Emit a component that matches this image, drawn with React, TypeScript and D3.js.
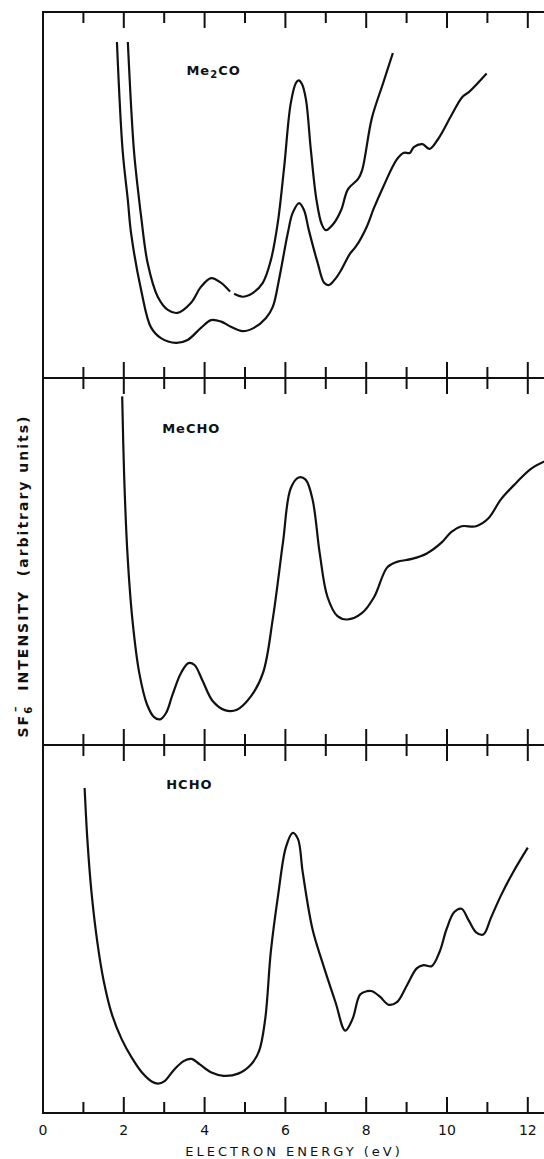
import React, { useRef, useEffect } from "react";
import * as d3 from "d3";

type Pt = [number, number | null];

// energy (eV) / intensity (0-100 of each panel, arbitrary units)
const me2coUpper: Pt[] = [
  [2.1, 91.8], [2.25, 62.3], [2.38, 48.6], [2.43, 44.0], [2.59, 31.4], [2.84, 22.2],
  [3.09, 18.6], [3.33, 17.8], [3.66, 20.5], [3.91, 24.9], [4.16, 27.3], [4.41, 26.0],
  [4.63, 23.6], [4.68, null], [4.73, 23.0], [4.94, 22.2], [5.19, 23.2], [5.44, 26.0],
  [5.64, 32.2], [5.81, 42.3], [5.97, 57.7], [6.13, 74.9], [6.26, 80.6], [6.33, 81.3],
  [6.41, 80.3], [6.51, 76.0], [6.63, 62.3], [6.77, 48.6], [6.9, 42.0], [7.0, 40.4],
  [7.2, 42.3], [7.38, 45.9], [7.55, 51.6], [7.8, 54.4], [7.9, 56.8], [8.14, 71.0],
  [8.42, 80.6], [8.66, 88.8],
];

const me2coLower: Pt[] = [
  [1.83, 91.8], [1.97, 62.3], [2.1, 48.6], [2.18, 39.6], [2.43, 24.0], [2.67, 13.9],
  [2.92, 10.9], [3.29, 9.6], [3.58, 10.4], [3.91, 13.7], [4.16, 15.8], [4.41, 15.4],
  [4.65, 14.0], [4.94, 12.8], [5.22, 13.7], [5.52, 16.4], [5.69, 19.5], [5.84, 26.8],
  [6.06, 39.6], [6.18, 45.1], [6.34, 47.8], [6.46, 45.9], [6.58, 40.4], [6.8, 31.4],
  [6.96, 26.0], [7.08, 25.4], [7.25, 27.3], [7.38, 29.5], [7.6, 34.0], [7.75, 36.0],
  [8.0, 41.0], [8.19, 46.4], [8.42, 52.2], [8.75, 59.6], [8.92, 61.5], [9.08, 61.5],
  [9.18, 63.1], [9.39, 63.9], [9.57, 62.6], [9.78, 65.3], [10.12, 72.0], [10.38, 76.8],
  [10.54, 78.1], [10.98, 83.2],
];

const mechoCurve: Pt[] = [
  [1.96, 95.0], [2.01, 72.9], [2.09, 52.2], [2.21, 34.5], [2.38, 19.8], [2.58, 10.9],
  [2.75, 7.6], [2.9, 7.0], [3.05, 8.8], [3.2, 13.5], [3.41, 19.5], [3.6, 22.3],
  [3.75, 21.8], [3.95, 17.5], [4.2, 12.0], [4.5, 9.5], [4.8, 9.6], [5.15, 13.3],
  [5.45, 19.8], [5.69, 34.5], [5.94, 55.2], [6.13, 69.9], [6.33, 72.9], [6.5, 72.3],
  [6.67, 67.0], [6.85, 52.2], [7.04, 40.4], [7.29, 35.1], [7.53, 34.2], [7.9, 36.0],
  [8.2, 40.4], [8.52, 48.4], [8.76, 49.9], [9.13, 50.7], [9.5, 52.2], [9.87, 55.2],
  [10.11, 58.1], [10.36, 59.6], [10.72, 59.6], [11.02, 61.7], [11.34, 67.0],
  [11.71, 71.4], [12.07, 75.2], [12.42, 77.3],
];

const hchoCurve: Pt[] = [
  [1.03, 88.3], [1.1, 74.0], [1.2, 60.0], [1.35, 46.0], [1.5, 36.0], [1.7, 27.0],
  [1.95, 20.0], [2.2, 15.0], [2.45, 11.0], [2.7, 8.5], [2.85, 8.0], [3.0, 8.6],
  [3.24, 11.7], [3.48, 14.1], [3.68, 14.7], [3.88, 13.2], [4.17, 11.0], [4.47, 10.1],
  [4.83, 10.7], [5.15, 13.2], [5.35, 16.9], [5.5, 25.5], [5.64, 43.9], [5.82, 59.2],
  [6.01, 72.1], [6.18, 76.1], [6.31, 74.5], [6.43, 65.3], [6.67, 50.0], [6.92, 40.8],
  [7.24, 30.1], [7.48, 22.4], [7.66, 25.5], [7.85, 32.2], [8.02, 33.1], [8.15, 33.1],
  [8.34, 31.6], [8.56, 29.4], [8.76, 30.1], [9.01, 34.7], [9.25, 39.3], [9.42, 40.2],
  [9.62, 39.9], [9.82, 43.9], [9.99, 50.0], [10.18, 54.6], [10.36, 55.5], [10.53, 52.5],
  [10.72, 49.1], [10.9, 48.5], [11.09, 53.1], [11.34, 59.2], [11.63, 65.3], [12.0, 72.1],
];

const tickValues = [0, 2, 4, 6, 8, 10, 12];
const tickLabels = ["0", "2", "4", "6", "8", "10", "12"];

// panel name, label position (eV, intensity), curves
const panelNames = ["Me", "MeCHO", "HCHO"];
const labelPos: [number, number][] = [[3.55, 84], [2.95, 86], [3.05, 89]];
const panelCurves: Pt[][][] = [[me2coUpper, me2coLower], [mechoCurve], [hchoCurve]];

const App = () => {
  const ref = useRef<SVGSVGElement>(null);
  const width = 544;
  const height = 1159;
  const left = 43;
  const bounds = [12, 378, 745, 1113];

  useEffect(() => {
    const svg = d3.select(ref.current);
    svg.selectAll("*").remove();

    const x = d3.scaleLinear().domain([0, 12]).range([left, left + 12 * 40.4]);
    const font = "'DejaVu Sans', sans-serif";

    svg.append("rect").attr("width", width).attr("height", height).attr("fill", "#fff");

    // frame
    svg
      .append("line")
      .attr("x1", left).attr("x2", left)
      .attr("y1", bounds[0]).attr("y2", bounds[3])
      .attr("stroke", "#111").attr("stroke-width", 2);

    bounds.forEach((yb, i) => {
      svg
        .append("line")
        .attr("x1", left - 1).attr("x2", width + 2)
        .attr("y1", yb).attr("y2", yb)
        .attr("stroke", "#111").attr("stroke-width", 2);

      const t = d3.range(1, 13);
      svg
        .append("g")
        .selectAll("line")
        .data(t)
        .enter()
        .append("line")
        .attr("x1", (d) => x(d))
        .attr("x2", (d) => x(d))
        .attr("y1", (d) => {
          const len = d % 2 === 0 ? 16 : 11;
          return i === 0 ? yb : yb - len;
        })
        .attr("y2", (d) => {
          const len = d % 2 === 0 ? 16 : 11;
          return i === 3 ? yb : yb + len;
        })
        .attr("stroke", "#111")
        .attr("stroke-width", 2);
    });

    // panels
    panelCurves.forEach((curves, i) => {
      const y = d3.scaleLinear().domain([0, 100]).range([bounds[i + 1], bounds[i]]);
      const line = d3
        .line<Pt>()
        .defined((d) => d[1] !== null)
        .x((d) => x(d[0]))
        .y((d) => y(d[1] as number))
        .curve(d3.curveCatmullRom.alpha(0.5));

      curves.forEach((c) => {
        svg
          .append("path")
          .attr("d", line(c))
          .attr("fill", "none")
          .attr("stroke", "#111")
          .attr("stroke-width", 2.2)
          .attr("stroke-linejoin", "round");
      });

      const lab = svg
        .append("text")
        .attr("x", x(labelPos[i][0]))
        .attr("y", y(labelPos[i][1]))
        .attr("dominant-baseline", "middle")
        .attr("font-family", font)
        .attr("font-weight", "bold")
        .attr("font-size", 13)
        .attr("letter-spacing", 1)
        .attr("fill", "#111");
      if (i === 0) {
        lab.append("tspan").text("Me");
        lab.append("tspan").attr("font-size", 10).attr("dy", 4).text("2");
        lab.append("tspan").attr("dy", -4).text("CO");
      } else {
        lab.text(panelNames[i]);
      }
    });

    // bottom tick labels
    svg
      .append("g")
      .selectAll("text")
      .data(tickValues)
      .enter()
      .append("text")
      .attr("x", (d) => x(d))
      .attr("y", 1135)
      .attr("text-anchor", "middle")
      .attr("font-family", font)
      .attr("font-size", 14)
      .attr("fill", "#111")
      .text((d, i) => tickLabels[i]);

    svg
      .append("text")
      .attr("x", 294)
      .attr("y", 1156)
      .attr("text-anchor", "middle")
      .attr("font-family", font)
      .attr("font-size", 13)
      .attr("letter-spacing", 3)
      .attr("fill", "#111")
      .text("ELECTRON ENERGY (eV)");

    // y axis title
    const yt = svg
      .append("text")
      .attr("transform", "translate(28, 576) rotate(-90)")
      .attr("text-anchor", "middle")
      .attr("font-family", font)
      .attr("font-weight", "bold")
      .attr("font-size", 14)
      .attr("letter-spacing", 2)
      .style("white-space", "pre")
      .attr("fill", "#111");
    yt.append("tspan").text("SF");
    yt.append("tspan").attr("font-size", 10).attr("dy", 4).text("6");
    yt.append("tspan").attr("dx", -7).attr("dy", -13).attr("font-size", 11).text("\u2013");
    yt.append("tspan").attr("dy", 9).text("  INTENSITY  (arbitrary units)");
  }, []);

  return (
    <svg
      ref={ref}
      width={width}
      height={height}
      style={{ position: "absolute", left: 0, top: 0 }}
    ></svg>
  );
};

export default App;
